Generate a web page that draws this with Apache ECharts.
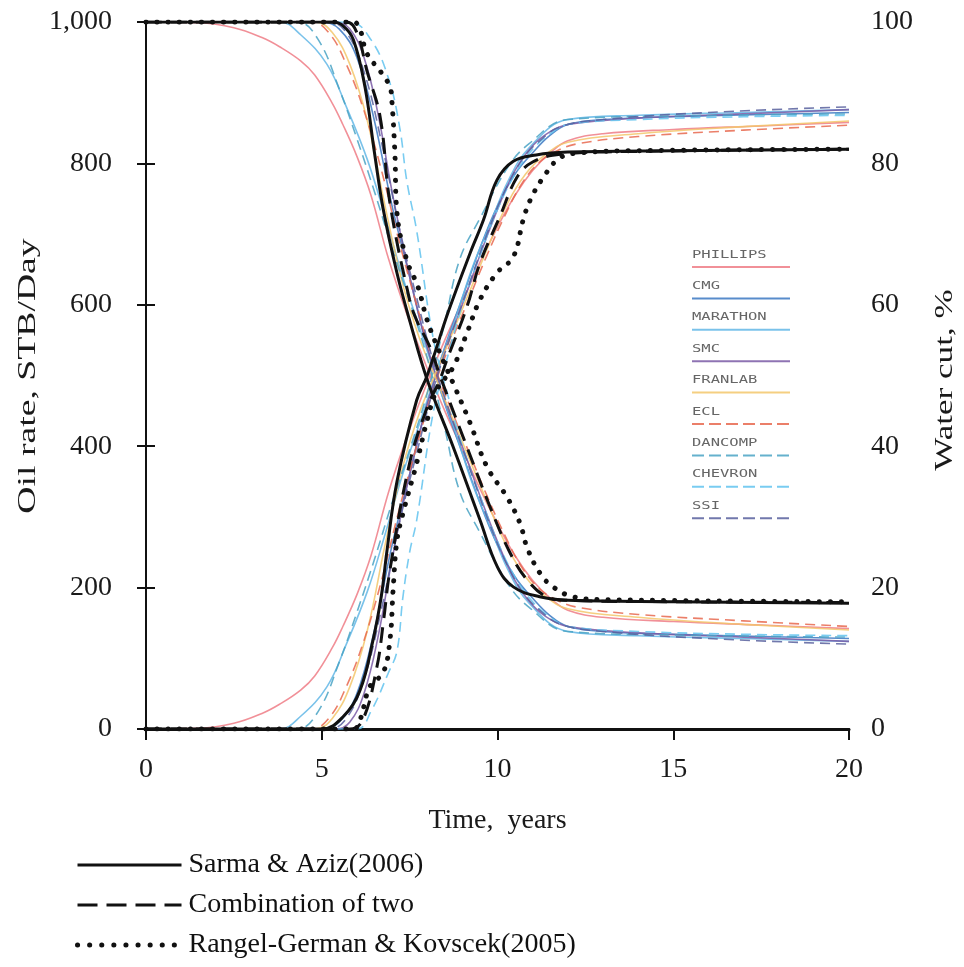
<!DOCTYPE html>
<html>
<head>
<meta charset="utf-8">
<title>Oil rate and water cut</title>
<script src="https://cdn.jsdelivr.net/npm/echarts@6/dist/echarts.min.js"></script>
<style>
  html, body { margin: 0; padding: 0; background: #fff; }
  #chart { width: 964px; height: 967px; }
</style>
</head>
<body>
<div id="chart"></div>
<script>
// Time axis and tick labels
const xTicks = [0, 5, 10, 15, 20];
const oilTicks = [0, 200, 400, 600, 800, 1000];
const wcTicks = [0, 20, 40, 60, 80, 100];

// Reference solutions: [years, value]
const sarmaOil = [[0,1000],[5.3,1000],[5.6,995],[5.9,975],[6.23,908],[6.5,815],[6.75,735],[7.14,645],[7.5,578],[8.0,494],[8.74,399],[9.5,296],[10.0,229],[10.45,201],[11.2,187],[12,182],[15,180],[20,178]];
const sarmaWc = [[0,0],[5.0,0],[5.6,1.7],[6.09,5.5],[6.46,12.6],[6.7,19],[6.85,25],[7.14,35],[7.7,46.5],[8.0,50],[8.6,59],[9.22,67.3],[9.6,72],[9.98,77.6],[10.45,80.3],[11.1,81.2],[12,81.6],[15,81.8],[20,82]];

const comboOil = [[0,1000],[5.7,1000],[6.0,985],[6.28,932],[6.66,866],[6.94,744],[7.5,607],[7.7,578],[8.08,540],[8.36,500],[9.13,399],[9.79,314],[10.36,249],[10.84,211],[11.4,187],[12,182],[15,180],[20,179]];
const comboWc = [[0,0],[5.8,0],[6.17,1.3],[6.57,8.8],[6.75,15],[6.94,22.5],[7.5,37.6],[8.0,45.5],[8.36,49.4],[8.56,52.2],[9.13,59.7],[9.5,65.9],[10.07,72.5],[10.55,78],[11.0,80.2],[11.8,81.3],[14,81.7],[20,82]];

const rangelOil = [[0,1000],[5.9,1000],[6.09,989],[6.28,956],[6.7,928],[6.94,908],[7.0,885],[7.08,815],[7.14,730],[7.42,663],[7.74,625],[8.0,578],[8.36,532],[8.8,482],[9.22,433],[9.7,371],[10.27,328],[10.64,291],[10.84,257],[11.2,221],[11.58,201],[12.15,187],[13,183],[20,180]];
const rangelWc = [[0,0],[5.9,0],[6.09,1.3],[6.37,6],[6.75,8],[6.94,12.6],[7.03,19.7],[7.14,26.7],[7.31,30.5],[7.7,37.6],[8.0,43.7],[8.28,48],[8.74,51.2],[9.13,56],[9.5,60.7],[9.98,64.5],[10.45,66.8],[10.73,72],[10.93,74.8],[11.3,78],[11.78,80.8],[12.35,81.5],[14,81.8],[20,82]];

// Comparative simulator results
const phillipsOil = [[0,1000],[1.5,999],[2.5,992],[3.3,978],[3.8,965],[4.4,945],[4.8,925],[5.3,885],[5.6,855],[6.0,810],[6.4,755],[6.9,665],[7.4,590],[8.0,510],[8.5,450],[9.0,395],[9.5,340],[10.0,290],[10.5,245],[11.0,210],[11.5,185],[12.0,168],[13,158],[15,152],[17.5,147],[20,142]];
const phillipsWc = [[0,0],[1.5,0.1],[2.5,0.8],[3.3,2.2],[3.8,3.5],[4.4,5.5],[4.8,7.5],[5.3,11.5],[5.6,14.5],[6.0,19],[6.4,24.5],[6.9,33.5],[7.4,41],[8.0,49],[8.5,55],[9.0,60.5],[9.5,66],[10.0,71],[10.5,75.5],[11.0,79],[11.5,81.5],[12.0,83.2],[13,84.2],[15,84.8],[17.5,85.3],[20,85.8]];

const cmgOil = [[0,1000],[5.0,1000],[5.5,990],[6.0,950],[6.5,860],[7.0,740],[7.5,640],[8.0,540],[8.5,460],[9.0,390],[9.5,320],[10.0,260],[10.5,215],[11.0,185],[11.5,160],[12.0,145],[13,138],[15,134],[20,128]];
const cmgWc = [[0,0],[5.0,0],[5.5,1],[6.0,5],[6.5,14],[7.0,26],[7.5,36],[8.0,46],[8.5,54],[9.0,61],[9.5,68],[10.0,74],[10.5,78.5],[11.0,81.5],[11.5,84],[12.0,85.5],[13,86.2],[15,86.6],[20,87.2]];

const marathonOil = [[0,1000],[3.8,1000],[4.4,982],[5.15,940],[5.7,880],[6.3,805],[6.8,725],[7.3,640],[7.8,565],[8.3,490],[8.8,420],[9.3,345],[9.8,285],[10.3,225],[10.9,178],[12,138],[14,132],[17,128],[20,124]];
const marathonWc = [[0,0],[3.8,0],[4.4,1.8],[5.15,6],[5.7,12],[6.3,19.5],[6.8,27.5],[7.3,36],[7.8,43.5],[8.3,51],[8.8,58],[9.3,65.5],[9.8,71.5],[10.3,77.5],[10.9,82.2],[12,86.2],[14,86.8],[17,87.2],[20,87.6]];

const smcOil = [[0,1000],[5.4,1000],[5.8,990],[6.2,950],[6.6,870],[7.0,760],[7.5,640],[8.0,540],[8.5,465],[9.0,400],[9.5,330],[10.0,265],[10.5,210],[11.0,175],[11.5,155],[12.0,145],[14,136],[17,130],[20,124]];
const smcWc = [[0,0],[5.4,0],[5.8,1],[6.2,5],[6.6,13],[7.0,24],[7.5,36],[8.0,46],[8.5,53.5],[9.0,60],[9.5,67],[10.0,73.5],[10.5,79],[11.0,82.5],[11.5,84.5],[12.0,85.5],[14,86.4],[17,87],[20,87.6]];

const franlabOil = [[0,1000],[4.8,1000],[5.3,985],[5.8,940],[6.3,860],[6.8,740],[7.3,630],[7.8,550],[8.3,490],[8.8,430],[9.3,370],[9.8,310],[10.3,255],[10.8,215],[11.3,190],[12.0,170],[14,158],[17,148],[20,140]];
const franlabWc = [[0,0],[4.8,0],[5.3,1.5],[5.8,6],[6.3,14],[6.8,26],[7.3,37],[7.8,45],[8.3,51],[8.8,57],[9.3,63],[9.8,69],[10.3,74.5],[10.8,78.5],[11.3,81],[12.0,83],[14,84.2],[17,85.2],[20,86]];

const eclOil = [[0,1000],[4.7,1000],[5.2,985],[5.7,940],[6.2,875],[6.7,790],[7.2,690],[7.7,600],[8.2,515],[8.7,450],[9.2,390],[9.7,330],[10.2,275],[10.7,228],[11.2,198],[11.7,182],[12.3,172],[14,162],[17,153],[20,145]];
const eclWc = [[0,0],[4.7,0],[5.2,1.5],[5.7,6],[6.2,12.5],[6.7,21],[7.2,31],[7.7,40],[8.2,48.5],[8.7,55],[9.2,61],[9.7,67],[10.2,72.5],[10.7,77.2],[11.2,80.2],[11.7,81.8],[12.3,82.8],[14,83.8],[17,84.7],[20,85.4]];

const dancompOil = [[0,1000],[4.3,1000],[4.9,975],[5.5,905],[6.0,835],[6.5,760],[7.0,680],[7.5,605],[8.0,525],[8.5,425],[8.93,335],[9.5,278],[10.3,205],[10.9,172],[12,138],[15,133],[20,130]];
const dancompWc = [[0,0],[4.3,0],[4.9,2.5],[5.5,9.5],[6.0,16.5],[6.5,24],[7.0,32],[7.5,39.5],[8.0,47.5],[8.5,57.5],[8.93,66.5],[9.5,72.2],[10.3,79.5],[10.9,82.8],[12,86.2],[15,86.7],[20,87]];

const chevronOil = [[0,1000],[5.8,1000],[6.4,975],[6.9,920],[7.22,850],[7.42,775],[7.7,705],[8.17,553],[8.6,470],[9.0,400],[9.5,330],[10.0,265],[10.5,215],[11.0,180],[11.5,158],[12.0,145],[14,138],[17,134],[20,132]];
const chevronWc = [[0,0],[6.0,0],[6.4,2.5],[6.9,8],[7.14,11],[7.31,18.7],[7.5,25],[7.7,29.5],[8.17,44.7],[8.6,53],[9.0,60],[9.5,67],[10.0,73.5],[10.5,78.5],[11.0,82],[11.5,84.2],[12.0,85.5],[14,86.2],[17,86.6],[20,86.8]];

const ssiOil = [[0,1000],[5.2,1000],[5.7,985],[6.2,930],[6.7,830],[7.2,710],[7.7,610],[8.2,515],[8.7,440],[9.2,370],[9.7,300],[10.2,240],[10.7,195],[11.2,168],[11.8,148],[13,138],[16,128],[20,120]];
const ssiWc = [[0,0],[5.2,0],[5.7,1.5],[6.2,7],[6.7,17],[7.2,29],[7.7,39],[8.2,48.5],[8.7,56],[9.2,63],[9.7,70],[10.2,76],[10.7,80.5],[11.2,83.2],[11.8,85.2],[13,86.2],[16,87.2],[20,88]];

const simulatorNames = ['PHILLIPS', 'CMG', 'MARATHON', 'SMC', 'FRANLAB', 'ECL', 'DANCOMP', 'CHEVRON', 'SSI'];
const simulatorColors = ['#ee7d86', '#3b78c2', '#63b7e6', '#7a5aa6', '#f3c76b', '#e8684f', '#4aa3c4', '#62c3ee', '#58609e'];
const simulatorDashed = [false, false, false, false, false, true, true, true, true];
const simulatorOil = [phillipsOil, cmgOil, marathonOil, smcOil, franlabOil, eclOil, dancompOil, chevronOil, ssiOil];
const simulatorWc = [phillipsWc, cmgWc, marathonWc, smcWc, franlabWc, eclWc, dancompWc, chevronWc, ssiWc];

const refNames = ['Sarma & Aziz(2006)', 'Combination of two', 'Rangel-German & Kovscek(2005)'];

const serif = 'Liberation Serif';
const mono = 'DejaVu Sans Mono';

function line(name, data, axis, lineStyle, z) {
  return {
    type: 'line', name, data, yAxisIndex: axis,
    symbol: 'none', showSymbol: false,
    smooth: 0.4,
    itemStyle: { color: lineStyle.color },
    lineStyle, z, silent: true
  };
}

const series = [];
simulatorNames.forEach((n, i) => {
  const st = {
    color: simulatorColors[i], width: 1.6, opacity: 0.85,
    type: simulatorDashed[i] ? [10, 6] : 'solid'
  };
  series.push(line(n, simulatorOil[i], 0, st, 2));
  series.push(line(n, simulatorWc[i], 1, st, 2));
});
const refStyles = [
  { color: '#111', width: 3, type: 'solid' },
  { color: '#111', width: 3, type: [16, 9] },
  { color: '#111', width: 5, type: [0.1, 11], cap: 'round' }
];
[[sarmaOil, sarmaWc], [comboOil, comboWc], [rangelOil, rangelWc]].forEach((pair, i) => {
  series.push(line(refNames[i], pair[0], 0, refStyles[i], 5));
  series.push(line(refNames[i], pair[1], 1, refStyles[i], 5));
});

// In-plot key: label with its line sample underneath
const graphics = [];
simulatorNames.forEach((n, i) => {
  const ty = 255 + i * 31.4;
  graphics.push({
    type: 'text', x: 692, y: ty, scaleX: 1.55, silent: true,
    style: { text: n, font: '10px "' + mono + '"', fill: '#666', verticalAlign: 'middle' }
  });
  graphics.push({
    type: 'line', silent: true,
    shape: { x1: 692, y1: ty + 12, x2: 790, y2: ty + 12 },
    style: {
      stroke: simulatorColors[i], lineWidth: 2, opacity: 0.85,
      lineDash: simulatorDashed[i] ? [12, 5] : null
    }
  });
});

// Vertical axis titles, drawn wide along their reading direction
graphics.push({
  type: 'text', x: 28, y: 376, rotation: Math.PI / 2, scaleX: 1.45, silent: true,
  style: { text: 'Oil rate, STB/Day', font: '26px "' + serif + '"', fill: '#1a1a1a', align: 'center', verticalAlign: 'middle' }
});
graphics.push({
  type: 'text', x: 945, y: 380, rotation: Math.PI / 2, scaleX: 1.35, silent: true,
  style: { text: 'Water cut, %', font: '26px "' + serif + '"', fill: '#1a1a1a', align: 'center', verticalAlign: 'middle' }
});

const axisLine = { show: true, lineStyle: { color: '#111', width: 2 } };
const axisTick = { show: true, inside: false, length: 9, lineStyle: { color: '#111', width: 2 } };
const tickFont = { fontFamily: serif, fontSize: 28, color: '#1a1a1a' };
const nameFont = { fontFamily: serif, fontSize: 28, color: '#1a1a1a' };

const chart = echarts.init(document.getElementById('chart'), null, { renderer: 'canvas' });
chart.setOption({
  animation: false,
  backgroundColor: '#fff',
  grid: { left: 146, right: 115, top: 22, bottom: 238 },
  legend: {
    data: [
      { name: refNames[0], lineStyle: { color: '#111', width: 3, type: 'solid' } },
      { name: refNames[1], lineStyle: { color: '#111', width: 3, type: [20, 9] } },
      { name: refNames[2], lineStyle: { color: '#111', width: 5, type: [0.1, 12], cap: 'round' } }
    ],
    orient: 'vertical', left: 70, top: 846,
    itemWidth: 104, itemHeight: 14, itemGap: 12,
    itemStyle: { opacity: 0 },
    selectedMode: false,
    textStyle: { fontFamily: serif, fontSize: 28, color: '#111', padding: [0, 0, 0, 2] }
  },
  xAxis: [{
    type: 'value', min: xTicks[0], max: xTicks[xTicks.length - 1], interval: 5,
    name: 'Time,  years', nameLocation: 'middle', nameGap: 78, nameTextStyle: nameFont,
    axisLine, axisTick: Object.assign({}, axisTick, { length: 11 }),
    axisLabel: Object.assign({ margin: 27 }, tickFont),
    splitLine: { show: false }
  }, {
    type: 'value', min: 0, max: 20, position: 'top',
    axisLine: { show: true, lineStyle: { color: '#111', width: 3 } },
    axisTick: { show: false }, axisLabel: { show: false }, splitLine: { show: false }
  }],
  yAxis: [{
    type: 'value', min: oilTicks[0], max: oilTicks[oilTicks.length - 1], interval: 200,
    axisLine, axisTick,
    axisLabel: Object.assign({ margin: 34, formatter: v => v.toLocaleString('en-US') }, tickFont),
    splitLine: { show: false }
  }, {
    type: 'value', min: wcTicks[0], max: wcTicks[wcTicks.length - 1], interval: 20, position: 'right',
    axisLine, axisTick,
    axisLabel: Object.assign({ margin: 22 }, tickFont),
    splitLine: { show: false }
  }],
  graphic: graphics,
  series
});
</script>
</body>
</html>
